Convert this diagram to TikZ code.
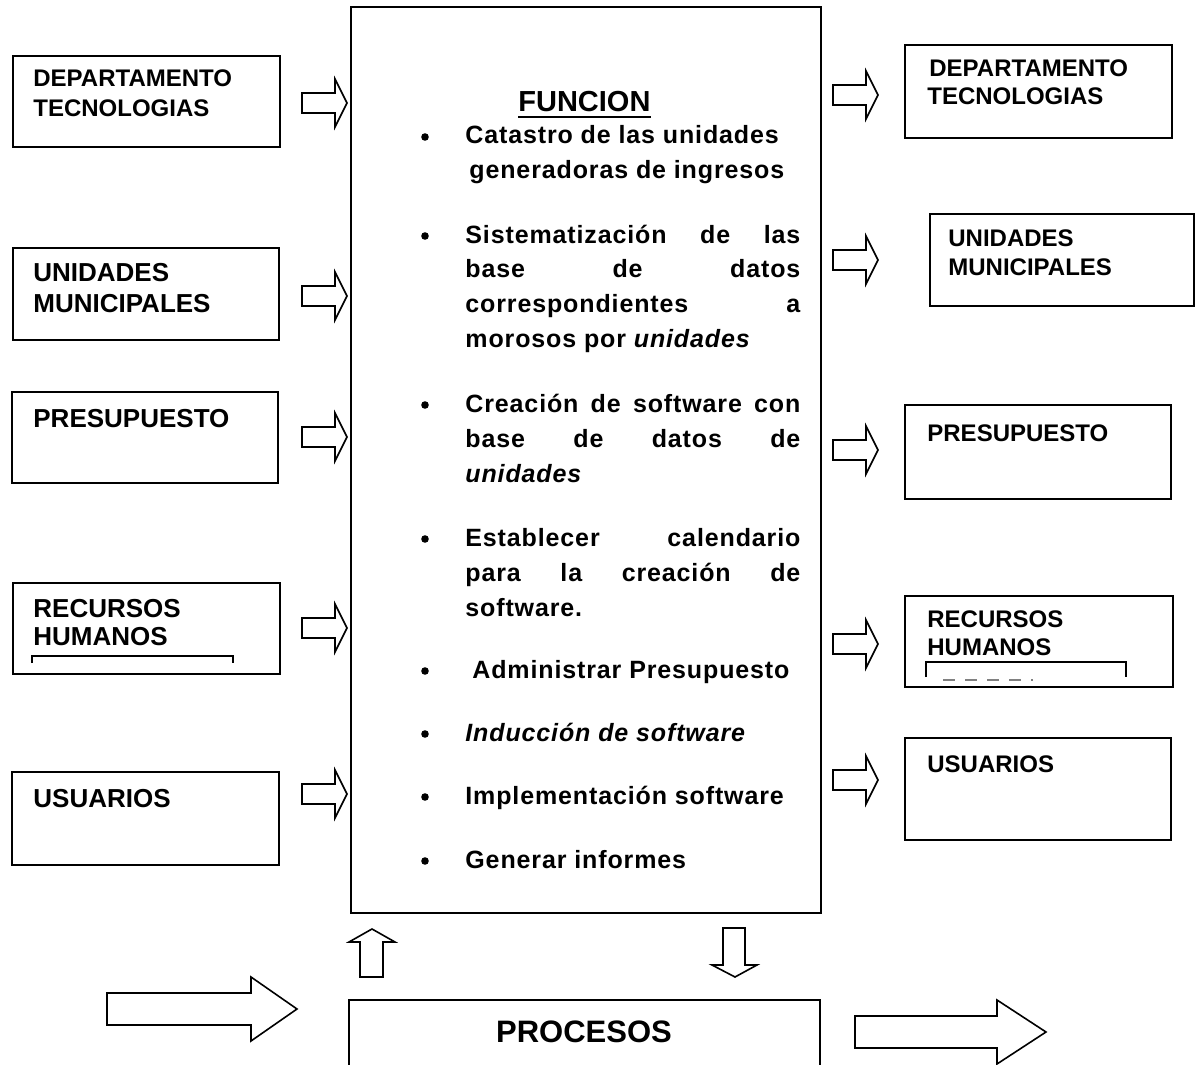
\documentclass[tikz,border=0pt]{standalone}
\usepackage{fontspec}
\setmainfont{Liberation Sans}
\newfontfamily\spacedfont[LetterSpace=3.5]{Liberation Sans}
\begin{document}
\begin{tikzpicture}[x=0.5pt,y=-0.5pt,
  box/.style={draw, line width=0.9pt},
  thinline/.style={draw, line width=0.7pt},
  lbl/.style={anchor=base west, inner sep=0pt, font=\bfseries\fontsize{13}{15}\selectfont},
  rlbl/.style={anchor=base west, inner sep=0pt, font=\bfseries\fontsize{12}{14}\selectfont},
  ftxt/.style={anchor=base west, inner sep=0pt, font=\spacedfont\bfseries\fontsize{12.5}{14}\selectfont},
  bulletdot/.style={circle, fill=black, inner sep=0pt, minimum size=3.8pt},
  hollow/.style={draw, line width=0.8pt, fill=white, line join=miter},
  rarr/.pic={\draw[hollow] (-45,-10) -- (-12,-10) -- (-12,-24) -- (0,0) -- (-12,24) -- (-12,10) -- (-45,10) -- cycle;}
]
\useasboundingbox (0,0) rectangle (1196,1065);

% ---------- left boxes ----------
\draw[box] (13,56) rectangle (280,147);
\node[rlbl] (l1a) at (33,87) {DEPARTAMENTO};
\node[rlbl] (l1b) at (33,117) {TECNOLOGIAS};

\draw[box] (13,248) rectangle (279,340);
\node[lbl] (l2a) at (33,282) {UNIDADES};
\node[lbl] (l2b) at (33,313) {MUNICIPALES};

\draw[box] (12,392) rectangle (278,483);
\node[lbl] (l3) at (33,427) {PRESUPUESTO};

\draw[box] (13,583) rectangle (280,674);
\node[lbl] (l4a) at (33,617) {RECURSOS};
\node[lbl] (l4b) at (33,645) {HUMANOS};
\draw[thinline] (32,663) -- (32,656) -- (233,656) -- (233,663);

\draw[box] (12,772) rectangle (279,865);
\node[lbl] (l5) at (33,807) {USUARIOS};

% left arrows
\pic at (347,103) {rarr};
\pic at (347,296) {rarr};
\pic at (347,437) {rarr};
\pic at (347,628) {rarr};
\pic at (347,794) {rarr};

% ---------- central box ----------
\draw[box] (351,7) rectangle (821,913);
\node[anchor=base west, inner sep=0pt, font=\bfseries\fontsize{14.5}{16}\selectfont] (fun) at (518,112) {FUNCION};
\draw[line width=1.1pt] ([yshift=-2.6pt]fun.base west) -- ([yshift=-2.6pt]fun.base east);

\node[bulletdot] (b1) at (425,137) {};
\node[ftxt] (t1a) at (465,144) {Catastro de las unidades};
\node[ftxt] (t1b) at (469,179) {generadoras de ingresos};

\node[bulletdot] (b2) at (425,236) {};
\node[ftxt] (t2a) at (465,243) {\makebox[167.5pt][s]{Sistematización de las}};
\node[ftxt] (t2b) at (465,278) {\makebox[167.5pt][s]{base de datos}};
\node[ftxt] (t2c) at (465,313) {\makebox[167.5pt][s]{correspondientes a}};
\node[ftxt] (t2d) at (465,348) {morosos por \textit{unidades}};

\node[bulletdot] (b3) at (425,405) {};
\node[ftxt] (t3a) at (465,412) {\makebox[167.5pt][s]{Creación de software con}};
\node[ftxt] (t3b) at (465,447) {\makebox[167.5pt][s]{base de datos de}};
\node[ftxt] (t3c) at (465,482) {\textit{unidades}};

\node[bulletdot] (b4) at (425,539) {};
\node[ftxt] (t4a) at (465,546) {\makebox[167.5pt][s]{Establecer calendario}};
\node[ftxt] (t4b) at (465,581) {\makebox[167.5pt][s]{para la creación de}};
\node[ftxt] (t4c) at (465,616) {software.};

\node[bulletdot] (b5) at (425,671) {};
\node[ftxt] (t5) at (472,678) {Administrar Presupuesto};

\node[bulletdot] (b6) at (425,734) {};
\node[ftxt] (t6) at (465,741) {\textit{Inducción de software}};

\node[bulletdot] (b7) at (425,797) {};
\node[ftxt] (t7) at (465,804) {Implementación software};

\node[bulletdot] (b8) at (425,861) {};
\node[ftxt] (t8) at (465,868) {Generar informes};

% up / down arrows
\draw[hollow] (372,929) -- (395,942) -- (383,942) -- (383,977) -- (360,977) -- (360,942) -- (349,942) -- cycle;
\draw[hollow] (735,977) -- (757,965) -- (745,965) -- (745,928) -- (723,928) -- (723,965) -- (712,965) -- cycle;

% ---------- procesos ----------
\draw[box] (349,1070) -- (349,1000) -- (820,1000) -- (820,1070);
\node[anchor=base, inner sep=0pt, font=\bfseries\fontsize{15.5}{18}\selectfont] (proc) at (584,1042) {PROCESOS};

% big arrows
\draw[hollow] (107,993) -- (251,993) -- (251,977) -- (297,1009) -- (251,1041) -- (251,1025) -- (107,1025) -- cycle;
\draw[hollow] (855,1016) -- (997,1016) -- (997,1000) -- (1046,1032) -- (997,1064) -- (997,1048) -- (855,1048) -- cycle;

% ---------- right arrows ----------
\pic at (878,95) {rarr};
\pic at (878,260) {rarr};
\pic at (878,450) {rarr};
\pic at (878,644) {rarr};
\pic at (878,780) {rarr};

% ---------- right boxes ----------
\draw[box] (905,45) rectangle (1172,138);
\node[rlbl] (r1a) at (929,77) {DEPARTAMENTO};
\node[rlbl] (r1b) at (927,105) {TECNOLOGIAS};

\draw[box] (930,214) rectangle (1194,306);
\node[rlbl] (r2a) at (948,247) {UNIDADES};
\node[rlbl] (r2b) at (948,276) {MUNICIPALES};

\draw[box] (905,405) rectangle (1171,499);
\node[rlbl] (r3) at (927,441) {PRESUPUESTO};

\draw[box] (905,596) rectangle (1173,687);
\node[rlbl] (r4a) at (927,627) {RECURSOS};
\node[rlbl] (r4b) at (927,655) {HUMANOS};
\draw[thinline] (926,677) -- (926,662) -- (1126,662) -- (1126,677);
\draw[line width=1pt, dash pattern=on 6pt off 5pt, gray] (943,680) -- (1033,680);

\draw[box] (905,738) rectangle (1171,840);
\node[rlbl] (r5) at (927,772) {USUARIOS};
\end{tikzpicture}
\end{document}
